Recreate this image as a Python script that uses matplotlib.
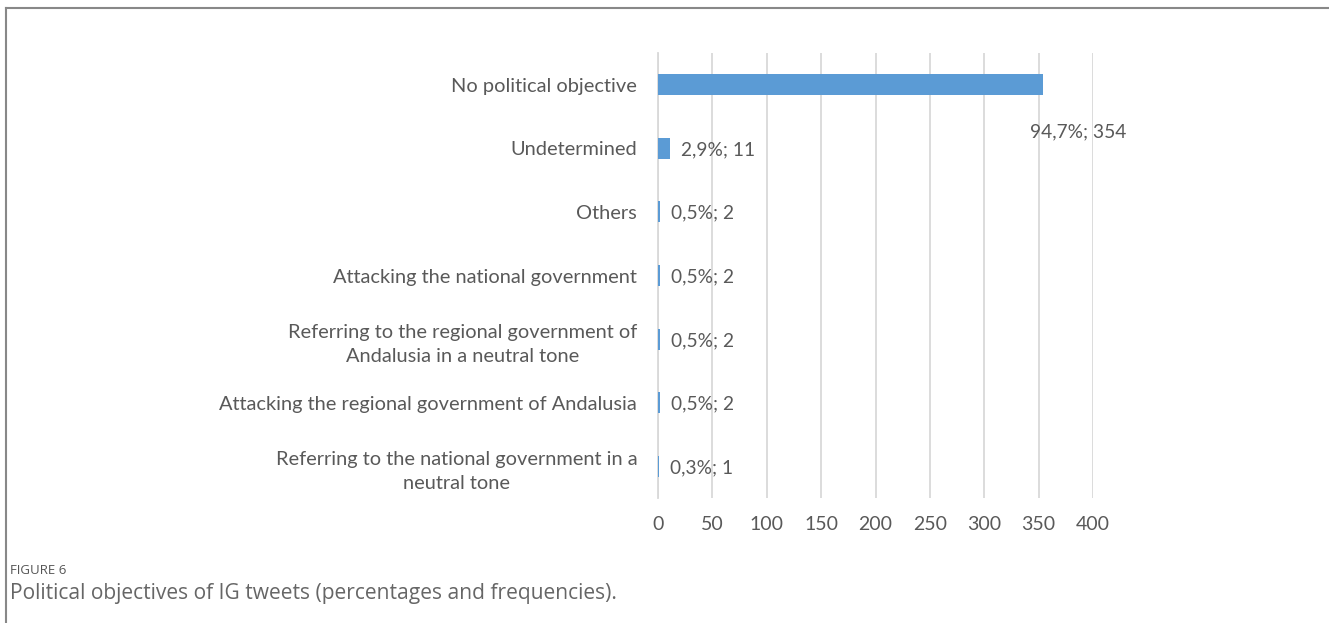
import numpy as np
import matplotlib.pyplot as plt
from matplotlib.lines import Line2D

# datos del grafico
categorias = ["No political objective",
              "Undetermined",
              "Others",
              "Attacking the national government",
              "Referring to the regional government of\nAndalusia in a neutral tone",
              "Attacking the regional government of Andalusia",
              "Referring to the national government in a\nneutral tone"]
frecuencias = [354, 11, 2, 2, 2, 2, 1]
porcentajes = ["94,7%", "2,9%", "0,5%", "0,5%", "0,5%", "0,5%", "0,3%"]
ticks_x = [0, 50, 100, 150, 200, 250, 300, 350, 400]

gris = "#595959"
azul = "#5B9BD5"

plt.rcParams['font.family'] = ['Lato', 'DejaVu Sans']

fig = plt.figure(figsize=(13.29, 6.23), dpi=100)
ax = fig.add_axes([658/1329, 1-498/623, (1093-658)/1329, (498-53)/623])

y = np.arange(len(categorias))
ax.barh(y, frecuencias, height=0.33, color=azul, zorder=3)

for i in range(len(categorias)):
    etiqueta = porcentajes[i] + "; " + str(frecuencias[i])
    if i == 0:
        # Excel puso esta etiqueta debajo del final de la barra
        ax.annotate(etiqueta, (frecuencias[i], y[i]), xytext=(-9, -34),
                    textcoords="offset points", ha="left", va="center",
                    fontsize=13.8, color=gris)
    else:
        ax.annotate(etiqueta, (frecuencias[i], y[i]), xytext=(8, -1),
                    textcoords="offset points", ha="left", va="center",
                    fontsize=13.8, color=gris)

ax.set_xlim(0, 400)
ax.set_ylim(len(categorias) - 0.5, -0.5)
ax.set_xticks(ticks_x)
ax.set_yticks(y)
ax.set_yticklabels(categorias, multialignment="center", linespacing=1.5)
ax.tick_params(axis="x", length=0, pad=13, labelsize=14, labelcolor=gris)
ax.tick_params(axis="y", length=0, pad=15, labelsize=14.4, labelcolor=gris)
ax.grid(axis="x", color="#D9D9D9", linewidth=1.3, zorder=0)
for s in ["top", "right", "bottom"]:
    ax.spines[s].set_visible(False)
ax.spines["left"].set_color("#D9D9D9")
ax.spines["left"].set_linewidth(1.3)

# marco de la figura
fig.add_artist(Line2D([6/1329, 6/1329], [0, 1-8/623], transform=fig.transFigure,
                      color="#888888", linewidth=1.5))
fig.add_artist(Line2D([6/1329, 1], [1-8/623, 1-8/623], transform=fig.transFigure,
                      color="#888888", linewidth=1.5))

fig.text(10/1329, 1-570/623, "FIGURE 6", fontsize=9.5, color="#555555",
         family=['Open Sans', 'DejaVu Sans'], va="center")
fig.text(10/1329, 1-593/623, "Political objectives of IG tweets (percentages and frequencies).",
         fontsize=15.1, color="#666666", family=['Open Sans', 'DejaVu Sans'], va="center")

fig.savefig("out.png", dpi=100)
